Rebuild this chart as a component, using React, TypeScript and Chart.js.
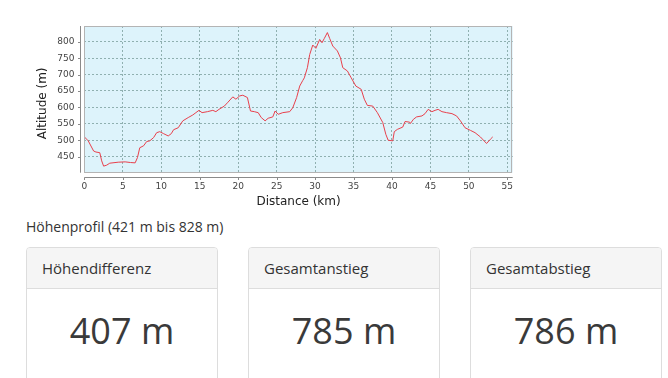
import React, { useEffect, useRef } from "react";
import { Chart, registerables } from "chart.js";

Chart.register(...registerables);

const distanceKm = [
  0, 0.5, 1.2, 1.5, 2.0, 2.25, 2.5, 2.9, 3.3, 4.4, 5.3, 6.0, 6.6, 6.9, 7.2, 7.7, 8.1, 8.5, 9.0, 9.4,
  9.8, 10.3, 10.9, 11.3, 11.6, 12.2, 12.8, 13.5, 14.1, 14.5, 14.9, 15.3, 16.0, 16.7, 17.1, 17.5, 18.2,
  18.6, 19.3, 19.7, 20.2, 20.6, 21.2, 21.6, 22.1, 22.6, 23.0, 23.5, 23.9, 24.5, 24.8, 25.2, 25.8, 26.7,
  27.1, 27.6, 28.0, 28.4, 28.6, 29.0, 29.3, 29.7, 30.1, 30.6, 30.9, 31.2, 31.6, 31.9, 32.3, 32.9, 33.3,
  33.6, 34.2, 34.7, 35.3, 36.0, 36.4, 36.8, 37.5, 38.1, 38.8, 39.2, 39.5, 40.1, 40.3, 40.7, 41.4, 41.7,
  42.3, 42.4, 42.8, 43.2, 43.9, 44.3, 44.7, 45.2, 45.6, 46.0, 46.5, 47.1, 47.8, 48.4, 48.9, 49.5, 50.2,
  50.8, 51.5, 52.3, 52.8, 53.1,
];
const altitudeM = [
  510, 498, 467, 464, 462, 437, 421, 424, 430, 433, 434, 432, 431, 447, 477, 483, 496, 498, 508, 523,
  526, 520, 513, 520, 532, 538, 559, 569, 577, 584, 591, 584, 587, 591, 587, 594, 604,
  614, 632, 625, 635, 637, 630, 589, 587, 584, 569, 559, 567, 571, 589, 579, 584, 587,
  599, 630, 665, 682, 690, 721, 761, 790, 780, 807, 797, 810, 828, 810, 787, 772, 751,
  721, 711, 690, 665, 655, 625, 606, 604, 584, 554, 518, 500, 498, 526, 533, 540, 557,
  555, 551, 564, 571, 574, 581, 594, 587, 591, 594, 587, 584, 581, 574, 559, 538, 530,
  523, 510, 490, 503, 510,
];

const xMin = 0;
const xMax = 55.7;
const yMin = 401;
const yMax = 848;
const tickStep = { x: 5, y: 50 };
const xTitle = "Distance (km)";
const yTitle = "Altitude (m)";
const profileTitle = "Höhenprofil (421 m bis 828 m)";
const cardTitles = ["Höhendifferenz", "Gesamtanstieg", "Gesamtabstieg"];
const cardValues = ["407 m", "785 m", "786 m"];

const CANVAS_W = 530;
const CANVAS_H = 212;

const plotPlugin = {
  id: "plotDecor",
  beforeDraw(chart: any) {
    const { ctx, chartArea } = chart;
    const { left, top, right, bottom } = chartArea;
    ctx.save();
    ctx.fillStyle = "#ddf3fb";
    ctx.fillRect(left, top, right - left, bottom - top);
    ctx.restore();
  },
  afterDraw(chart: any) {
    const { ctx, chartArea, scales } = chart;
    const { left, top, right, bottom } = chartArea;
    ctx.save();
    ctx.strokeStyle = "#b4b4b4";
    ctx.lineWidth = 1;
    ctx.strokeRect(Math.round(left) + 0.5, Math.round(top) + 0.5, Math.round(right - left) - 1, Math.round(bottom - top) - 1);
    const ax = Math.round(left - 4) + 0.5;
    const ay = Math.round(bottom + 4) + 0.5;
    ctx.strokeStyle = "#8a8a8a";
    ctx.beginPath();
    ctx.moveTo(ax, top);
    ctx.lineTo(ax, bottom);
    ctx.moveTo(left, ay);
    ctx.lineTo(right, ay);
    scales.x.ticks.forEach((t: any) => {
      const px = Math.round(scales.x.getPixelForValue(t.value)) + 0.5;
      ctx.moveTo(px, ay);
      ctx.lineTo(px, ay + 2.5);
    });
    scales.y.ticks.forEach((t: any) => {
      const py = Math.round(scales.y.getPixelForValue(t.value)) + 0.5;
      ctx.moveTo(ax, py);
      ctx.lineTo(ax - 2.5, py);
    });
    ctx.stroke();
    ctx.fillStyle = "#222";
    ctx.font = "12px 'DejaVu Sans'";
    ctx.textAlign = "center";
    ctx.textBaseline = "middle";
    ctx.fillText(xTitle, (left + right) / 2, 202);
    ctx.translate(43, (top + bottom) / 2 + 4);
    ctx.rotate(-Math.PI / 2);
    ctx.fillText(yTitle, 0, 0);
    ctx.restore();
  },
};

function ElevationChart() {
  const ref = useRef<HTMLCanvasElement | null>(null);
  useEffect(() => {
    if (!ref.current) return;
    const points = distanceKm.map((d, i) => ({ x: d, y: altitudeM[i] }));
    const gridCommon = {
      color: "#8fb0b0",
      lineWidth: 1,
      drawTicks: false,
    };
    const chart = new Chart(ref.current, {
      type: "line",
      data: {
        datasets: [
          {
            data: points,
            borderColor: "#e8404c",
            borderWidth: 1,
            pointRadius: 0,
            tension: 0,
            fill: false,
          },
        ],
      },
      options: {
        animation: false,
        responsive: false,
        devicePixelRatio: 1,
        layout: { padding: { top: 26, right: 17.3, left: 0, bottom: 0 } },
        plugins: { legend: { display: false }, tooltip: { enabled: false } },
        scales: {
          x: {
            type: "linear",
            min: xMin,
            max: xMax,
            grid: gridCommon,
            border: { display: false, dash: [2, 2] },
            ticks: {
              stepSize: tickStep.x,
              includeBounds: false,
              padding: 9,
              font: { family: "'DejaVu Sans'", size: 9 },
              color: "#444",
              maxRotation: 0,
            },
            afterFit: (s: any) => {
              s.height = CANVAS_H - 172.7;
            },
          },
          y: {
            type: "linear",
            min: yMin,
            max: yMax,
            grid: gridCommon,
            border: { display: false, dash: [2, 2] },
            ticks: {
              stepSize: tickStep.y,
              includeBounds: false,
              padding: 10,
              font: { family: "'DejaVu Sans'", size: 9 },
              color: "#444",
            },
            afterFit: (s: any) => {
              s.width = 84.4;
            },
          },
        },
      },
      plugins: [plotPlugin],
    } as any);
    return () => chart.destroy();
  }, []);
  return (
    <canvas
      ref={ref}
      width={CANVAS_W}
      height={CANVAS_H}
      style={{ position: "absolute", left: 0, top: 0, width: CANVAS_W, height: CANVAS_H }}
    />
  );
}

const cardLefts = [26, 248, 470];

export default function App() {
  return (
    <div
      style={{
        position: "absolute",
        left: 0,
        top: 0,
        width: 668,
        height: 378,
        overflow: "hidden",
        background: "#fff",
        fontFamily: "'Open Sans', sans-serif",
        color: "#333",
      }}
    >
      <ElevationChart />
      <div
        style={{
          position: "absolute",
          left: 26,
          top: 217,
          fontSize: 14,
          lineHeight: "20px",
          color: "#333",
          whiteSpace: "nowrap",
        }}
      >
        {profileTitle}
      </div>
      {cardTitles.map((t, i) => (
        <div
          key={t}
          style={{
            position: "absolute",
            left: cardLefts[i],
            top: 247,
            width: 192,
            height: 160,
            boxSizing: "border-box",
            border: "1px solid #ddd",
            borderRadius: 4,
            background: "#fff",
            overflow: "hidden",
          }}
        >
          <div
            style={{
              background: "#f5f5f5",
              borderBottom: "1px solid #ddd",
              padding: "10px 15px",
              fontSize: 15,
              lineHeight: "20px",
              color: "#333",
            }}
          >
            {t}
          </div>
          <div
            style={{
              paddingTop: 22,
              textAlign: "center",
              fontSize: 36,
              fontWeight: 400,
              lineHeight: "40px",
              color: "#3a3a3a",
            }}
          >
            {cardValues[i]}
          </div>
        </div>
      ))}
    </div>
  );
}
